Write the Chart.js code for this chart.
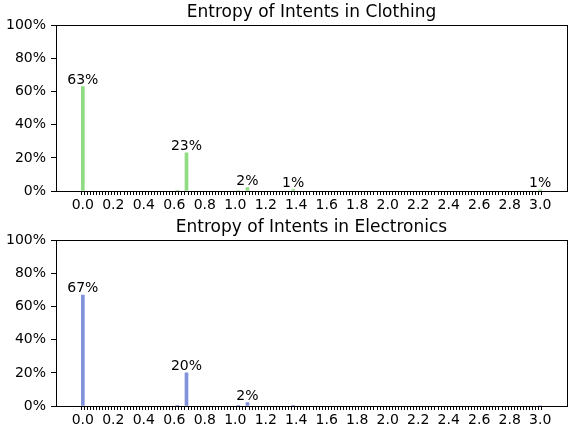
<!DOCTYPE html>
<html>
<head>
<meta charset="utf-8">
<script src="https://cdn.jsdelivr.net/npm/chart.js@4.4.1/dist/chart.umd.min.js"></script>
<style>
  html, body { margin: 0; padding: 0; background: #fff; }
  .box { position: relative; width: 570px; height: 215px; }
</style>
</head>
<body>
<div class="box"><canvas id="clothing"></canvas></div>
<div class="box"><canvas id="electronics"></canvas></div>
<script>
// entropy bin of each bar (x position)
const entropy = [0.0, 0.62, 0.68, 1.02, 1.08, 1.38, 3.0];
// share of intents (%)
const clothingPct = [63, 0.4, 23, 0.3, 2, 0.9, 0.7];
const electronicsPct = [67, 0.4, 20, 0.2, 2, 0.4, 0.3];
// x axis: small tick every 0.02, label every 0.2
const xTickLabels = ['0.0', '0.2', '0.4', '0.6', '0.8', '1.0', '1.2', '1.4', '1.6', '1.8', '2.0', '2.2', '2.4', '2.6', '2.8', '3.0'];
const xTickStep = 0.02;
const yTicks = [0, 20, 40, 60, 80, 100];

Chart.defaults.font.family = '"DejaVu Sans", sans-serif';
Chart.defaults.font.size = 14;
Chart.defaults.color = '#000';

// black frame round the plot area
const frame = {
  id: 'frame',
  afterDraw(chart) {
    const a = chart.chartArea;
    const ctx = chart.ctx;
    ctx.save();
    ctx.strokeStyle = '#000';
    ctx.lineWidth = 1;
    ctx.strokeRect(Math.round(a.left) + 0.5, Math.round(a.top) + 0.5, Math.round(a.right - a.left), Math.round(a.bottom - a.top));
    ctx.restore();
  }
};

// percentage text above each bar
const barLabels = {
  id: 'barLabels',
  afterDatasetsDraw(chart) {
    const ctx = chart.ctx;
    const vals = chart.data.datasets[0].data;
    ctx.save();
    ctx.font = '14px "DejaVu Sans"';
    ctx.fillStyle = '#000';
    ctx.textAlign = 'center';
    ctx.textBaseline = 'alphabetic';
    chart.getDatasetMeta(0).data.forEach((bar, i) => {
      const v = Math.round(vals[i].y);
      if (v < 1) return;
      ctx.fillText(v + '%', bar.x, bar.y - 3);
    });
    ctx.restore();
  }
};

const makeChart = (id, title, values, color) => {
  new Chart(document.getElementById(id), {
    type: 'bar',
    data: {
      datasets: [{
        data: entropy.map((x, i) => ({ x: x, y: values[i] })),
        backgroundColor: color,
        barThickness: 3
      }]
    },
    options: {
      responsive: true,
      maintainAspectRatio: false,
      animation: false,
      layout: { padding: { left: 0, right: 3, top: 0, bottom: 0 } },
      plugins: {
        legend: { display: false },
        tooltip: { enabled: false },
        title: {
          display: true,
          text: title,
          fullSize: false,
          font: { size: 17, weight: 'normal' },
          color: '#000',
          padding: { top: 2, bottom: 3 }
        }
      },
      scales: {
        x: {
          type: 'linear',
          min: -0.165,
          max: 3.165,
          afterBuildTicks: (scale) => {
            const ticks = [];
            for (let i = 0; i <= (xTickLabels.length - 1) * 10; i++) {
              ticks.push({ value: +(i * xTickStep).toFixed(2) });
            }
            scale.ticks = ticks;
          },
          afterFit: (scale) => { scale.height = 24; },
          ticks: {
            autoSkip: false,
            maxRotation: 0,
            minRotation: 0,
            padding: 2,
            callback: (v, i) => (i % 10 === 0 ? xTickLabels[i / 10] : '')
          },
          grid: { drawOnChartArea: false, drawTicks: true, tickLength: 4, tickColor: '#000' },
          border: { display: true, color: '#000' }
        },
        y: {
          min: 0,
          max: 100,
          afterBuildTicks: (scale) => { scale.ticks = yTicks.map(v => ({ value: v })); },
          afterFit: (scale) => { scale.width = 56; },
          ticks: { padding: 5, callback: v => v + '%' },
          grid: { drawOnChartArea: false, drawTicks: true, tickLength: 5, tickColor: '#000' },
          border: { display: true, color: '#000' }
        }
      }
    },
    plugins: [frame, barLabels]
  });
};

makeChart('clothing', 'Entropy of Intents in Clothing', clothingPct, '#8fdc82');
makeChart('electronics', 'Entropy of Intents in Electronics', electronicsPct, '#8191dc');
</script>
</body>
</html>
